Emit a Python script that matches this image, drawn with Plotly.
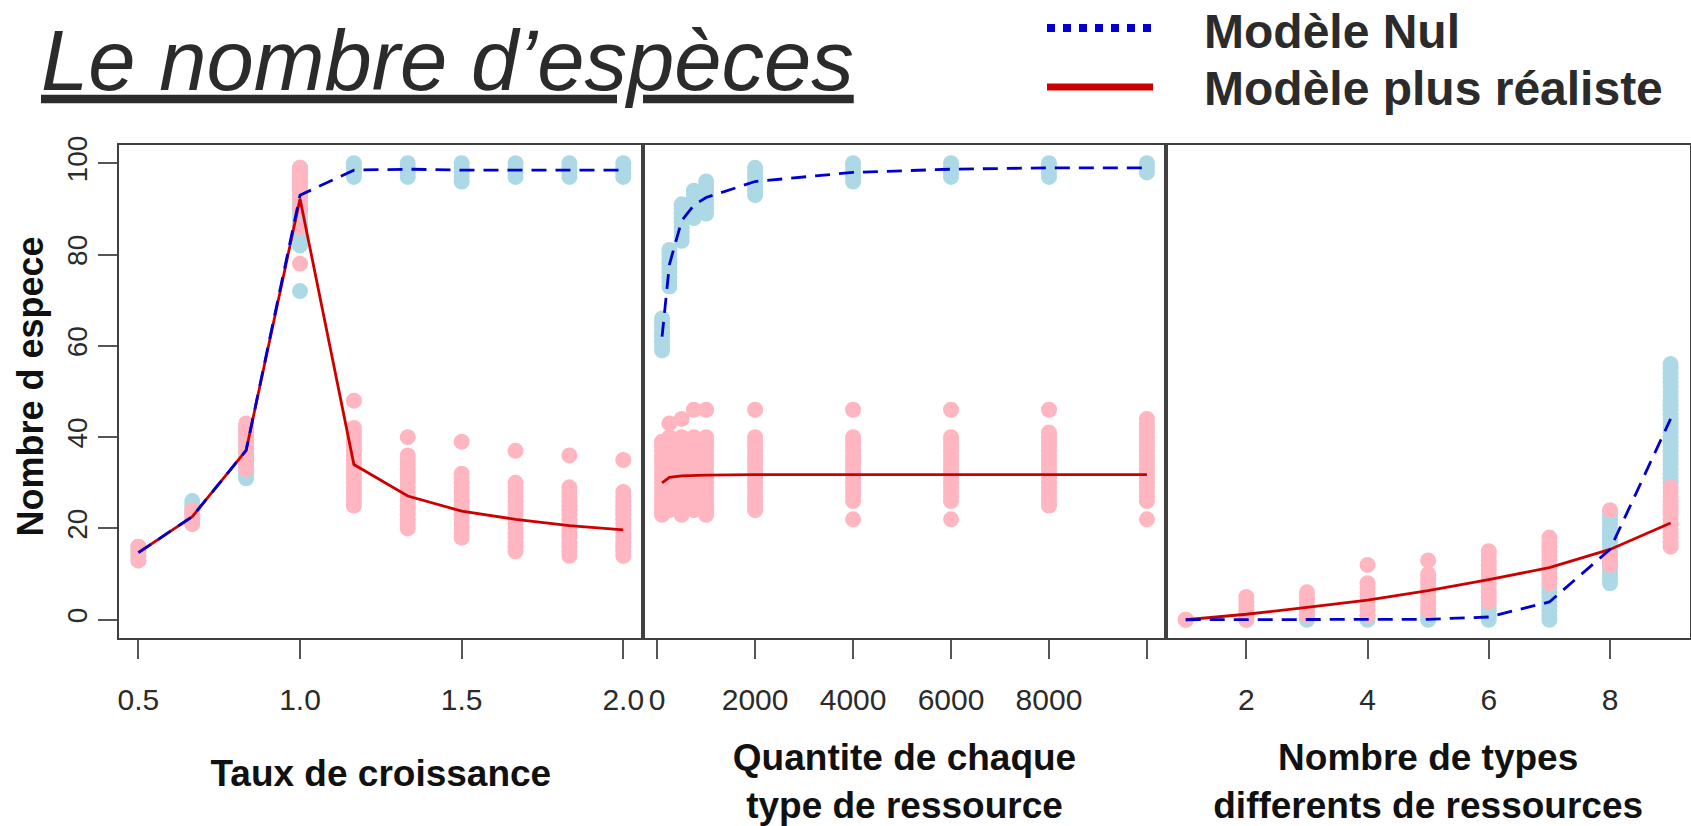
import plotly.graph_objects as go

# ---------------- data ----------------
# Panel 1 : Taux de croissance
x_taux = [0.5, 0.6667, 0.8333, 1.0, 1.1667, 1.3333, 1.5, 1.6667, 1.8333, 2.0]
nul_taux_mean = [14.7, 22.6, 37.1, 93.0, 98.5, 98.7, 98.5, 98.5, 98.5, 98.5]
real_taux_mean = [14.7, 22.6, 37.1, 92.2, 34.0, 27.1, 23.8, 22.0, 20.6, 19.7]
nul_taux_pts = [
    [13, 14, 15, 16],
    [21, 22, 23, 24, 25, 26],
    [31, 32, 33, 34, 35, 36, 37, 38, 39, 40, 41, 42],
    [72, 82, 83, 84, 85, 86, 87, 88, 89, 90, 91, 92, 93, 94, 95, 96, 97, 98, 99],
    [97, 98, 99, 100],
    [97, 98, 99, 100],
    [96, 97, 98, 99, 100],
    [97, 98, 99, 100],
    [97, 98, 99, 100],
    [97, 98, 99, 100],
]
real_taux_pts = [
    [13, 14, 15, 16],
    [21, 22, 23, 24],
    [33, 34, 35, 36, 37, 38, 39, 40, 41, 42, 43],
    [78, 86, 90, 92, 93, 94, 95, 96, 97, 98, 99],
    [25, 26, 27, 28, 29, 30, 31, 32, 33, 34, 35, 36, 37, 38, 39, 40, 41, 42, 48],
    [20, 21, 22, 23, 24, 25, 26, 27, 28, 29, 30, 31, 32, 33, 34, 35, 36, 40],
    [18, 19, 20, 21, 22, 23, 24, 25, 26, 27, 28, 29, 30, 31, 32, 39],
    [15, 16, 17, 18, 19, 20, 21, 22, 23, 24, 25, 26, 27, 28, 29, 30, 37],
    [14, 15, 16, 17, 18, 19, 20, 21, 22, 23, 24, 25, 26, 27, 28, 29, 36],
    [14, 15, 16, 17, 18, 19, 20, 21, 22, 23, 24, 25, 26, 27, 28, 35],
]

# Panel 2 : Quantite de chaque type de ressource
x_quant = [100, 250, 500, 750, 1000, 2000, 4000, 6000, 8000, 10000]
nul_quant_mean = [62.0, 77.8, 87.4, 90.8, 92.5, 96.0, 98.0, 98.7, 99.0, 99.0]
real_quant_mean = [30.0, 31.2, 31.5, 31.6, 31.7, 31.8, 31.8, 31.7, 31.8, 31.8]
nul_quant_pts = [
    [59, 60, 61, 62, 63, 64, 65, 66],
    [73, 74, 75, 76, 77, 78, 79, 80, 81],
    [83, 84, 85, 86, 87, 88, 89, 90, 91],
    [88, 89, 90, 91, 92, 93, 94],
    [89, 90, 91, 92, 93, 94, 95, 96],
    [93, 94, 95, 96, 97, 98, 99],
    [96, 97, 98, 99, 100],
    [97, 98, 99, 100],
    [97, 98, 99, 100],
    [98, 99, 100],
]
real_quant_pts = [
    [23, 24, 25, 26, 27, 28, 29, 30, 31, 32, 33, 34, 35, 36, 37, 38, 39],
    [24, 25, 26, 27, 28, 29, 30, 31, 32, 33, 34, 35, 36, 37, 38, 39, 40, 43],
    [23, 24, 25, 26, 27, 28, 29, 30, 31, 32, 33, 34, 35, 36, 37, 38, 39, 40, 44],
    [24, 25, 26, 27, 28, 29, 30, 31, 32, 33, 34, 35, 36, 37, 38, 39, 40, 46],
    [23, 24, 25, 26, 27, 28, 29, 30, 31, 32, 33, 34, 35, 36, 37, 38, 39, 40, 46],
    [24, 25, 26, 27, 28, 29, 30, 31, 32, 33, 34, 35, 36, 37, 38, 39, 40, 46],
    [22, 26, 27, 28, 29, 30, 31, 32, 33, 34, 35, 36, 37, 38, 39, 40, 46],
    [22, 26, 27, 28, 29, 30, 31, 32, 33, 34, 35, 36, 37, 38, 39, 40, 46],
    [25, 26, 27, 28, 29, 30, 31, 32, 33, 34, 35, 36, 37, 38, 39, 40, 41, 46],
    [22, 26, 27, 28, 29, 30, 31, 32, 33, 34, 35, 36, 37, 38, 39, 40, 41, 42, 43, 44],
]

# Panel 3 : Nombre de types differents de ressources
x_types = [1, 2, 3, 4, 5, 6, 7, 8, 9]
nul_types_mean = [0.0, 0.0, 0.0, 0.0, 0.1, 0.6, 3.9, 15.4, 44.0]
real_types_mean = [0.0, 1.2, 2.7, 4.3, 6.4, 8.8, 11.4, 15.4, 21.2]
nul_types_pts = [
    [0],
    [0, 1],
    [0, 1],
    [0, 1],
    [0, 1],
    [0, 1, 2, 3],
    [0, 1, 2, 3, 4, 5, 6, 7],
    [8, 9, 10, 11, 12, 13, 14, 15, 16, 17, 18, 19, 20, 21, 22, 23],
    [30, 31, 32, 33, 34, 35, 36, 37, 38, 39, 40, 41, 42, 43, 44, 45, 46, 47,
     48, 49, 50, 51, 52, 53, 54, 55, 56],
]
real_types_pts = [
    [0],
    [0, 1, 2, 3, 4, 5],
    [1, 2, 3, 4, 5, 6],
    [1, 2, 3, 4, 5, 6, 7, 8, 12],
    [2, 3, 4, 5, 6, 7, 8, 9, 10, 13],
    [4, 5, 6, 7, 8, 9, 10, 11, 12, 13, 14, 15],
    [8, 9, 10, 11, 12, 13, 14, 15, 16, 17, 18],
    [12, 13, 14, 24],
    [16, 17, 18, 19, 20, 21, 22, 23, 24, 25, 26, 27, 28, 29],
]

y_ticks = [0, 20, 40, 60, 80, 100]
x_taux_ticks = [0.5, 1.0, 1.5, 2.0]
x_taux_labels = ["0.5", "1.0", "1.5", "2.0"]
x_quant_ticks = [0, 2000, 4000, 6000, 8000, 10000]
x_quant_labels = ["0", "2000", "4000", "6000", "8000", ""]
x_types_ticks = [2, 4, 6, 8]
x_types_labels = ["2", "4", "6", "8"]

# ---------------- styling ----------------
FONT = "Liberation Sans, Arial, Helvetica, sans-serif"
C_BLUE_PT = "#ADD8E6"
C_PINK_PT = "#FFB6C1"
C_BLUE_LN = "#0000CD"
C_RED_LN = "#CD0000"
TXT = "#2b2b2b"

W, H = 1691, 826
ML, MR, MT, MB = 119, 1, 145, 188


def expand(xs, pts):
    ox, oy = [], []
    for xv, vals in zip(xs, pts):
        ox += [xv] * len(vals)
        oy += list(vals)
    return ox, oy


def padded(vals):
    lo, hi = min(vals), max(vals)
    d = (hi - lo) * 0.04
    return [lo - d, hi + d]


fig = go.Figure()

panels = [
    ("x", "y", x_taux, nul_taux_mean, real_taux_mean, nul_taux_pts, real_taux_pts),
    ("x2", "y2", x_quant, nul_quant_mean, real_quant_mean, nul_quant_pts, real_quant_pts),
    ("x3", "y3", x_types, nul_types_mean, real_types_mean, nul_types_pts, real_types_pts),
]

for xa, ya, xs, nmean, rmean, npts, rpts in panels:
    bx, by = expand(xs, npts)
    px_, py_ = expand(xs, rpts)
    fig.add_trace(go.Scatter(x=bx, y=by, mode="markers", xaxis=xa, yaxis=ya,
                             marker=dict(size=16, color=C_BLUE_PT, line=dict(width=0)),
                             showlegend=False, hoverinfo="x+y"))
    fig.add_trace(go.Scatter(x=px_, y=py_, mode="markers", xaxis=xa, yaxis=ya,
                             marker=dict(size=16, color=C_PINK_PT, line=dict(width=0)),
                             showlegend=False, hoverinfo="x+y"))
    fig.add_trace(go.Scatter(x=xs, y=rmean, mode="lines", xaxis=xa, yaxis=ya,
                             line=dict(color=C_RED_LN, width=2.8),
                             name="Modèle plus réaliste", showlegend=False))
    fig.add_trace(go.Scatter(x=xs, y=nmean, mode="lines", xaxis=xa, yaxis=ya,
                             line=dict(color=C_BLUE_LN, width=2.8, dash="15px,9px"),
                             name="Modèle Nul", showlegend=False))

y_range = [-4, 104]

axis_common = dict(showline=True, mirror=True, linecolor="#404040", linewidth=2,
                   showgrid=False, zeroline=False, ticks="outside", ticklen=19,
                   tickwidth=1.5, tickcolor="#555555",
                   tickfont=dict(family=FONT, size=30, color=TXT))
title_font = dict(family=FONT, size=37, color="#111111")

fig.update_layout(
    xaxis=dict(axis_common, domain=[0, 1 / 3], range=padded(x_taux),
               tickvals=x_taux_ticks, ticktext=x_taux_labels, ticklabelstandoff=15,
               title=dict(text="<b>Taux de croissance</b>", font=title_font, standoff=45)),
    xaxis2=dict(axis_common, domain=[1 / 3, 2 / 3], range=padded(x_quant),
                tickvals=x_quant_ticks, ticktext=x_quant_labels, ticklabelstandoff=15,
                title=dict(text="<b>Quantite de chaque<br>type de ressource</b>",
                           font=title_font, standoff=38)),
    xaxis3=dict(axis_common, domain=[2 / 3, 1], range=padded(x_types),
                tickvals=x_types_ticks, ticktext=x_types_labels, ticklabelstandoff=15,
                title=dict(text="<b>Nombre de types<br>differents de ressources</b>",
                           font=title_font, standoff=38)),
    yaxis=dict(axis_common, domain=[0, 1], range=y_range, tickvals=y_ticks,
               tickangle=-90, ticklabelstandoff=0,
               tickfont=dict(family=FONT, size=28, color=TXT)),
    yaxis2=dict(showline=True, mirror=True, linecolor="#404040", linewidth=2,
                showgrid=False, zeroline=False, range=y_range, anchor="x2",
                showticklabels=False, ticks=""),
    yaxis3=dict(showline=True, mirror=True, linecolor="#404040", linewidth=2,
                showgrid=False, zeroline=False, range=y_range, anchor="x3",
                showticklabels=False, ticks=""),
)


def px2paper_x(p):
    return (p - ML) / (W - ML - MR)


def px2paper_y(p):
    return (H - MB - p) / (H - MT - MB)


# y axis title (placed like R's ylab)
fig.add_annotation(text="<b>Nombre d espece</b>", xref="paper", yref="paper",
                   x=px2paper_x(29.5), y=px2paper_y(387), xanchor="center", yanchor="middle",
                   textangle=-90, showarrow=False,
                   font=dict(family=FONT, size=36, color="#111111"))

# legend (drawn manually, R-style, above the plot)
fig.add_shape(type="line", xref="paper", yref="paper",
              x0=px2paper_x(1047), x1=px2paper_x(1151), y0=px2paper_y(28), y1=px2paper_y(28),
              line=dict(color="#0000CC", width=8, dash="dot"))
fig.add_shape(type="line", xref="paper", yref="paper",
              x0=px2paper_x(1047), x1=px2paper_x(1153), y0=px2paper_y(87), y1=px2paper_y(87),
              line=dict(color="#CC0000", width=7))
fig.add_annotation(text="<b>Modèle Nul</b>", xref="paper", yref="paper",
                   x=px2paper_x(1202), y=px2paper_y(31), xanchor="left", yanchor="middle",
                   showarrow=False, font=dict(family=FONT, size=48, color=TXT))
fig.add_annotation(text="<b>Modèle plus réaliste</b>", xref="paper", yref="paper",
                   x=px2paper_x(1202), y=px2paper_y(89), xanchor="left", yanchor="middle",
                   showarrow=False, font=dict(family=FONT, size=48, color=TXT))

fig.update_layout(
    title=dict(text="<i><u>Le nombre d’espèces</u></i>", xref="container", yref="container",
               x=41 / W, xanchor="left", y=1 - 60 / H, yanchor="middle",
               font=dict(family=FONT, size=85, color=TXT)),
    width=W, height=H,
    margin=dict(l=ML, r=MR, t=MT, b=MB, autoexpand=False),
    paper_bgcolor="white", plot_bgcolor="white",
    showlegend=False,
)

fig.write_html("out.html")
